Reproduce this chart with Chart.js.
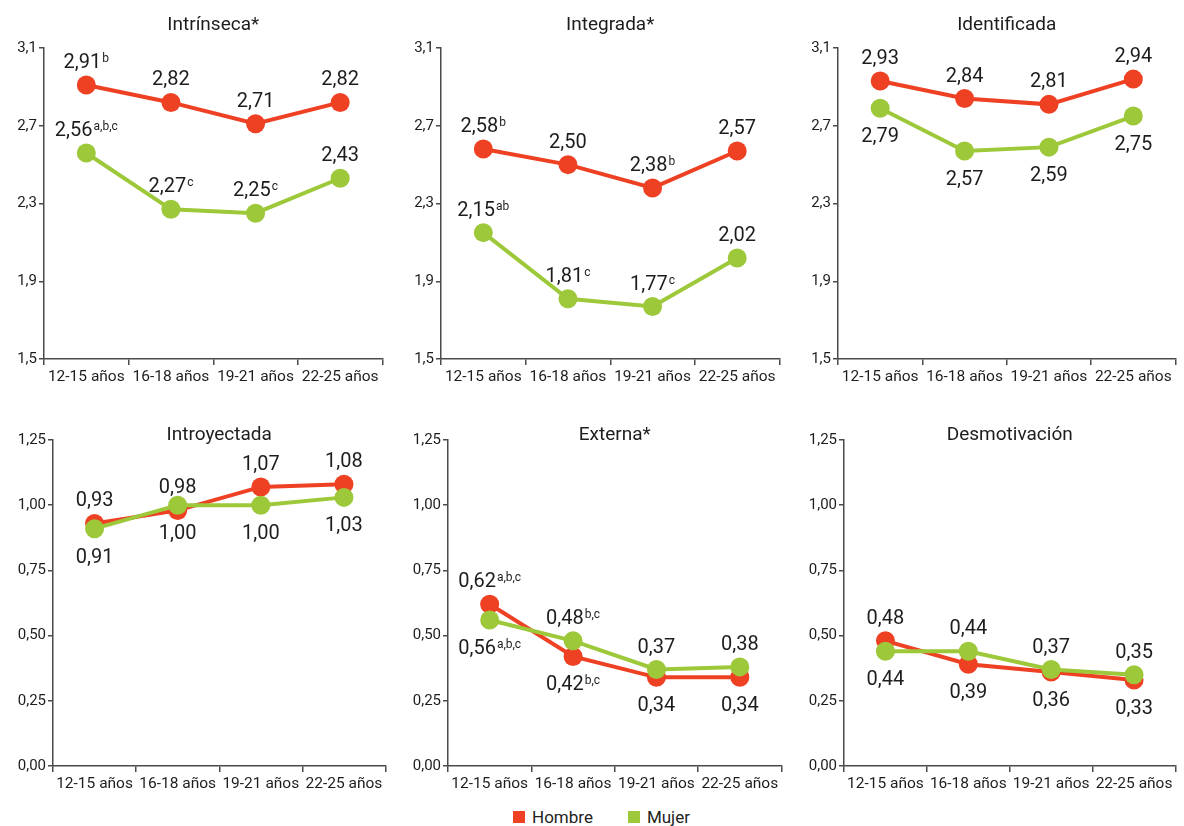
<!DOCTYPE html>
<html>
<head>
<meta charset="utf-8">
<title>Motivación por sexo y edad</title>
<script src="https://cdn.jsdelivr.net/npm/chart.js@4/dist/chart.umd.min.js"></script>
<style>
  body { margin: 0; background: #fff; font-family: Roboto, sans-serif; }
  #wrap { position: relative; width: 1184px; height: 826px; overflow: hidden; }
  #wrap canvas { position: absolute; }
  #legend { position: absolute; top: 807px; left: 513px; display: flex; align-items: center; font-size: 17px; color: #231F20; }
  #legend span.box { display: inline-block; width: 12px; height: 12px; margin-right: 7px; }
  #legend span.item { display: flex; align-items: center; margin-right: 35px; }
</style>
</head>
<body>
<div id="wrap">
  <div id="legend">
    <span class="item"><span class="box" style="background:#EE4124"></span>Hombre</span>
    <span class="item"><span class="box" style="background:#9DC83A"></span>Mujer</span>
  </div>
</div>
<script>
// datos
const categories = ['12-15 años', '16-18 años', '19-21 años', '22-25 años'];
const titles = ['Intrínseca*', 'Integrada*', 'Identificada', 'Introyectada', 'Externa*', 'Desmotivación'];

const hombre = [
    [2.91, 2.82, 2.71, 2.82],
    [2.58, 2.50, 2.38, 2.57],
    [2.93, 2.84, 2.81, 2.94],
    [0.93, 0.98, 1.07, 1.08],
    [0.62, 0.42, 0.34, 0.34],
    [0.48, 0.39, 0.36, 0.33]
];
const mujer = [
    [2.56, 2.27, 2.25, 2.43],
    [2.15, 1.81, 1.77, 2.02],
    [2.79, 2.57, 2.59, 2.75],
    [0.91, 1.00, 1.00, 1.03],
    [0.56, 0.48, 0.37, 0.38],
    [0.44, 0.44, 0.37, 0.35]
];
// superíndices de significación
const hombreSup = [
    ['b', '', '', ''],
    ['b', '', 'b', ''],
    ['', '', '', ''],
    ['', '', '', ''],
    ['a,b,c', 'b,c', '', ''],
    ['', '', '', '']
];
const mujerSup = [
    ['a,b,c', 'c', 'c', ''],
    ['ab', 'c', 'c', ''],
    ['', '', '', ''],
    ['', '', '', ''],
    ['a,b,c', 'b,c', '', ''],
    ['', '', '', '']
];

const ticksTop = [1.5, 1.9, 2.3, 2.7, 3.1];
const ticksBottom = [0, 0.25, 0.5, 0.75, 1.0, 1.25];

// dónde va la etiqueta de cada serie
const labelMode = ['above', 'above', 'series', 'series', 'higher', 'higher'];

const RED = '#EE4124';
const GREEN = '#9DC83A';
const INK = '#1f1c1d';
const AXIS = '#4a4a4a';
const FONT = 'Roboto';
const Y_AXIS_W = 40;

// posición de cada panel en la página
const panels = [
    { axisX: 44,  right: 389,  top: 0,   areaTop: 48,  areaBottom: 359, titleGap: 23, ticks: ticksTop,    dec: 1 },
    { axisX: 441, right: 786,  top: 0,   areaTop: 48,  areaBottom: 359, titleGap: 23, ticks: ticksTop,    dec: 1 },
    { axisX: 838, right: 1182, top: 0,   areaTop: 48,  areaBottom: 359, titleGap: 23, ticks: ticksTop,    dec: 1 },
    { axisX: 53,  right: 392,  top: 400, areaTop: 440, areaBottom: 766, titleGap: 5,  ticks: ticksBottom, dec: 2 },
    { axisX: 448, right: 788,  top: 400, areaTop: 440, areaBottom: 766, titleGap: 5,  ticks: ticksBottom, dec: 2 },
    { axisX: 844, right: 1182, top: 400, areaTop: 440, areaBottom: 766, titleGap: 5,  ticks: ticksBottom, dec: 2 }
];

function fmt(v, dec) {
    return v.toFixed(dec).replace('.', ',');
}

function drawLabel(ctx, x, y, text, sup, above) {
    const center = above ? y - 24 : y + 27;
    const base = center + 7;
    ctx.font = '20px ' + FONT;
    const wMain = ctx.measureText(text).width;
    ctx.font = '12px ' + FONT;
    const wSup = sup ? ctx.measureText(sup).width + 1 : 0;
    const x0 = x - (wMain + wSup) / 2;
    ctx.textAlign = 'left';
    ctx.textBaseline = 'alphabetic';
    ctx.fillStyle = INK;
    ctx.font = '20px ' + FONT;
    ctx.fillText(text, x0, base);
    if (sup) {
        ctx.font = '12px ' + FONT;
        ctx.fillText(sup, x0 + wMain + 1, base - 6);
    }
}

const panelText = {
    id: 'panelText',
    afterDatasetsDraw(chart, args, opts) {
        const i = opts.panel;
        const ctx = chart.ctx;
        const area = chart.chartArea;
        ctx.save();
        // título
        ctx.font = '19px ' + FONT;
        ctx.fillStyle = INK;
        ctx.textAlign = 'center';
        ctx.textBaseline = 'middle';
        ctx.fillText(titles[i], (area.left + area.right) / 2, area.top - panels[i].titleGap);
        // etiquetas de valores
        const metaH = chart.getDatasetMeta(0);
        const metaM = chart.getDatasetMeta(1);
        for (let j = 0; j < categories.length; j++) {
            const hv = hombre[i][j], mv = mujer[i][j];
            let hAbove = true, mAbove = true;
            if (labelMode[i] === 'series') { mAbove = false; }
            if (labelMode[i] === 'higher') { hAbove = hv >= mv; mAbove = !hAbove; }
            const hp = metaH.data[j], mp = metaM.data[j];
            drawLabel(ctx, hp.x, hp.y, fmt(hv, 2), hombreSup[i][j], hAbove);
            drawLabel(ctx, mp.x, mp.y, fmt(mv, 2), mujerSup[i][j], mAbove);
        }
        ctx.restore();
    }
};

const wrap = document.getElementById('wrap');

panels.forEach(function(p, i) {
    const canvas = document.createElement('canvas');
    const w = p.right - p.axisX + Y_AXIS_W + 3;
    const h = p.areaBottom + 30 - p.top;
    canvas.width = w;
    canvas.height = h;
    canvas.style.left = (p.axisX - Y_AXIS_W) + 'px';
    canvas.style.top = p.top + 'px';
    canvas.style.width = w + 'px';
    canvas.style.height = h + 'px';
    wrap.appendChild(canvas);

    new Chart(canvas.getContext('2d'), {
        type: 'line',
        data: {
            labels: categories,
            datasets: [{
                label: 'Hombre',
                data: hombre[i],
                borderColor: RED,
                backgroundColor: RED,
                pointBackgroundColor: RED,
                borderWidth: 4,
                pointRadius: 9.5,
                pointHoverRadius: 9.5,
                pointBorderWidth: 0,
                tension: 0,
                fill: false,
                clip: false,
                order: 1
            }, {
                label: 'Mujer',
                data: mujer[i],
                borderColor: GREEN,
                backgroundColor: GREEN,
                pointBackgroundColor: GREEN,
                borderWidth: 4,
                pointRadius: 9.5,
                pointHoverRadius: 9.5,
                pointBorderWidth: 0,
                tension: 0,
                fill: false,
                clip: false,
                order: 0
            }]
        },
        options: {
            responsive: false,
            animation: false,
            events: [],
            layout: { padding: { top: p.areaTop - p.top, right: 3, left: 0, bottom: 0 } },
            plugins: {
                legend: { display: false },
                tooltip: { enabled: false },
                panelText: { panel: i }
            },
            scales: {
                x: {
                    type: 'category',
                    offset: true,
                    grid: { offset: true, drawOnChartArea: false, tickLength: 6, color: AXIS, lineWidth: 1.5 },
                    border: { color: AXIS, width: 1.5 },
                    ticks: { color: INK, font: { family: FONT, size: 15.5 }, padding: 3, maxRotation: 0, autoSkip: false },
                    afterFit: function(s) { s.height = 30; }
                },
                y: {
                    min: p.ticks[0],
                    max: p.ticks[p.ticks.length - 1],
                    grid: { drawOnChartArea: false, tickLength: 5, color: AXIS, lineWidth: 1.5 },
                    border: { color: AXIS, width: 1.5 },
                    ticks: {
                        color: INK,
                        font: { family: FONT, size: 15 },
                        padding: 2,
                        callback: function(v) { return fmt(v, p.dec); }
                    },
                    afterBuildTicks: function(s) { s.ticks = p.ticks.map(v => ({ value: v })); },
                    afterFit: function(s) { s.width = Y_AXIS_W; }
                }
            }
        },
        plugins: [panelText]
    });
});
</script>
</body>
</html>
